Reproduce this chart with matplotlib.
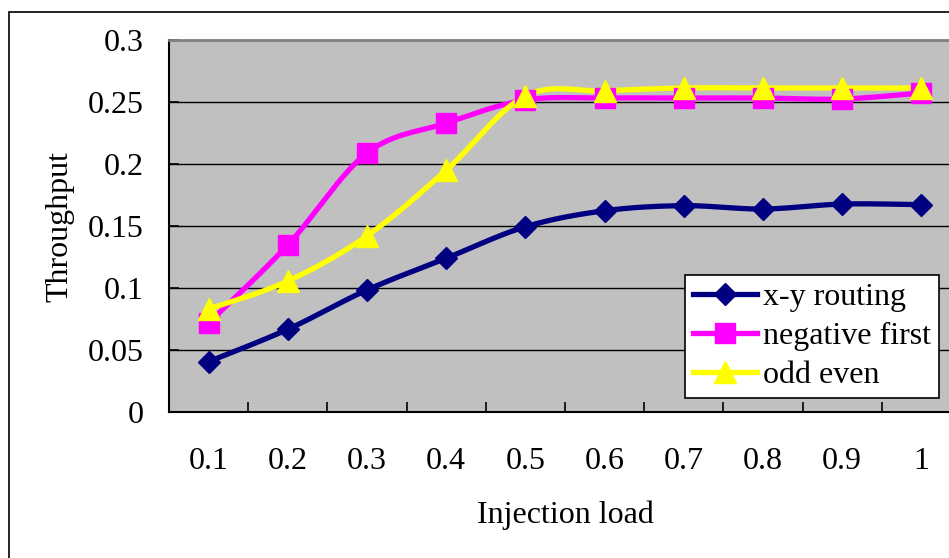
import numpy as np
import matplotlib
matplotlib.use("Agg")
import matplotlib.pyplot as plt
from matplotlib.patches import Rectangle

plt.rcParams['font.family'] = ['Liberation Serif', 'DejaVu Serif']

loads = ['0.1', '0.2', '0.3', '0.4', '0.5', '0.6', '0.7', '0.8', '0.9', '1']
xy_routing = [0.0406, 0.0667, 0.0984, 0.1240, 0.1494, 0.1623, 0.1664, 0.1637, 0.1677, 0.1672]
negative_first = [0.0718, 0.1347, 0.2089, 0.2330, 0.2516, 0.2532, 0.2532, 0.2532, 0.2524, 0.2573]
odd_even = [0.0830, 0.1056, 0.1420, 0.1950, 0.2550, 0.2590, 0.2613, 0.2613, 0.2613, 0.2613]

series = [
    ('x-y routing', xy_routing, '#000080', 'D', 11),
    ('negative first', negative_first, '#FF00FF', 's', 15),
    ('odd even', odd_even, '#FFFF00', '^', 16),
]


def smooth(x, y, n=30):
    # catmull-rom as bezier, roughly what excel does for "smoothed line"
    p = np.column_stack([x, y]).astype(float)
    p = np.vstack([p[0], p, p[-1]])
    out = []
    t = np.linspace(0, 1, n)[:, None]
    for i in range(1, len(p) - 2):
        b0 = p[i]
        b3 = p[i + 1]
        b1 = b0 + (p[i + 1] - p[i - 1]) / 6
        b2 = b3 - (p[i + 2] - p[i]) / 6
        seg = (1 - t) ** 3 * b0 + 3 * (1 - t) ** 2 * t * b1 + 3 * (1 - t) * t ** 2 * b2 + t ** 3 * b3
        out.append(seg if i == 1 else seg[1:])
    seg = np.vstack(out)
    return seg[:, 0], seg[:, 1]


fig = plt.figure(figsize=(9.49, 5.58), dpi=100)
ax = fig.add_axes([169 / 949, 1 - 412 / 558, 792 / 949, 372 / 558])
ax.set_facecolor('#C0C0C0')

fs = 23
x = np.arange(len(loads))
for name, vals, col, mk, ms in series:
    sx, sy = smooth(x, vals)
    ax.plot(sx, sy, color=col, lw=3.8, solid_capstyle='round', zorder=3)
    ax.plot(x, vals, linestyle='none', marker=mk, markersize=ms, color=col,
            markeredgecolor=col, zorder=4)
    # handle for legend
    ax.plot([], [], color=col, lw=3.8, marker=mk, markersize=ms, label=name)

ax.set_xlim(-0.5, len(loads) - 0.5)
ax.set_ylim(0, 0.3)
ax.set_yticks(np.arange(0, 0.301, 0.05))
ax.set_yticklabels(['0', '0.05', '0.1', '0.15', '0.2', '0.25', '0.3'])
ax.set_xticks(x)
ax.set_xticklabels(loads)
ax.set_xticks(np.arange(0.5, len(loads) - 1, 1.0), minor=True)
ax.tick_params(axis='x', which='major', length=0, pad=25, labelsize=fs)
ax.tick_params(axis='x', which='minor', direction='in', length=7, width=1.2, color='black')
ax.tick_params(axis='y', direction='in', length=7, width=1.2, pad=18, labelsize=fs)
ax.yaxis.grid(True, color='black', lw=1)
ax.set_axisbelow(True)

for s in ['left', 'bottom']:
    ax.spines[s].set_color('black')
    ax.spines[s].set_linewidth(1.5)
ax.spines['top'].set_color('#808080')
ax.spines['top'].set_linewidth(2)
ax.spines['right'].set_visible(False)

ax.set_xlabel('Injection load', fontsize=fs, labelpad=18)
ax.set_ylabel('Throughput', fontsize=fs, labelpad=10)

h, l = ax.get_legend_handles_labels()
leg = ax.legend(h[-3:], l[-3:], loc='lower left', bbox_to_anchor=(0.6515, 0.0376),
                borderaxespad=0, fontsize=fs, frameon=True, fancybox=False,
                framealpha=1, edgecolor='black', handlelength=2.0,
                handletextpad=0.2, labelspacing=0.3, borderpad=0.25)
leg.get_frame().set_linewidth(1.2)
leg.set_zorder(5)

fig.patches.append(Rectangle((9 / 949, -0.1), 1.2, 1 - 12 / 558 + 0.1,
                             transform=fig.transFigure, fill=False,
                             edgecolor='black', lw=1.2))

fig.savefig('out.png', dpi=100)
